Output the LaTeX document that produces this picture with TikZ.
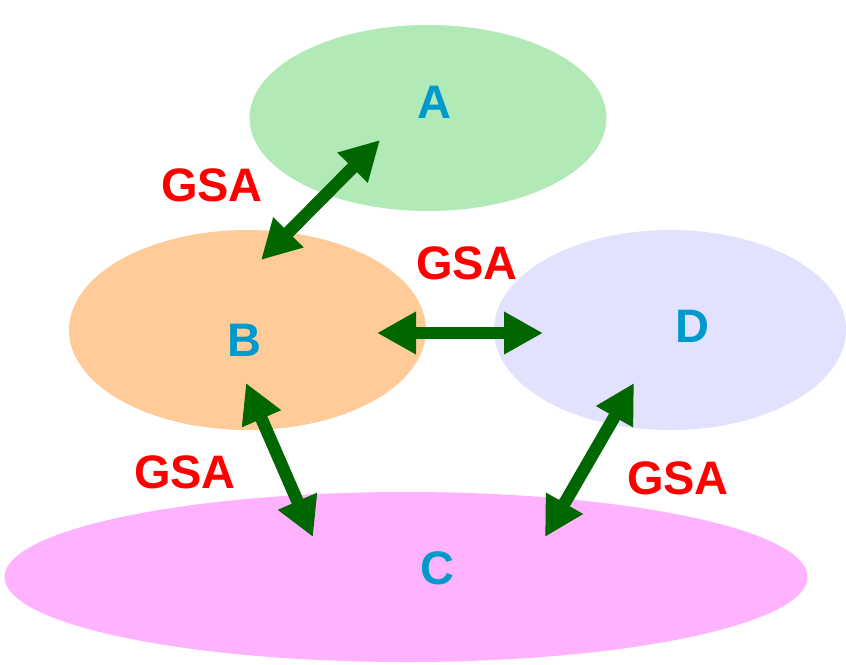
\documentclass[tikz,border=0pt]{standalone}
\usepackage{fontspec}
\setmainfont{Liberation Sans}
\usetikzlibrary{shapes.geometric,arrows.meta}
\definecolor{cA}{HTML}{B1E9B7}
\definecolor{cB}{HTML}{FFCC99}
\definecolor{cD}{HTML}{E2E2FE}
\definecolor{cC}{HTML}{FFB3FF}
\definecolor{lbl}{HTML}{0099CC}
\definecolor{arr}{HTML}{006600}
\tikzset{
  blob/.style={ellipse, draw=none, inner sep=0pt},
  letter/.style={text=lbl, font=\fontsize{47}{47}\selectfont\bfseries, inner sep=0pt},
  gsa/.style={text=red, font=\fontsize{47}{47}\selectfont\bfseries, inner sep=0pt},
  link/.style={draw=arr, line width=12.5pt, {Triangle[width=40pt,length=39pt]}-{Triangle[width=40pt,length=39pt]}, shorten <=0pt, shorten >=0pt}
}
\begin{document}
\begin{tikzpicture}[x=1pt,y=-1pt]
\useasboundingbox (0,0) rectangle (846,664);
\fill[white] (0,0) rectangle (846,664);
\node[blob, fill=cA, minimum width=357pt, minimum height=186pt] (eA) at (428,118) {};
\node[blob, fill=cB, minimum width=357pt, minimum height=200pt] (eB) at (247.5,330) {};
\node[blob, fill=cD, minimum width=352pt, minimum height=200pt] (eD) at (670,330) {};
\node[blob, fill=cC, minimum width=803pt, minimum height=170pt] (eC) at (406,577) {};
\node[letter] (tA) at (434,102) {A};
\node[letter] (tB) at (244,340) {B};
\node[letter] (tD) at (692,326) {D};
\node[letter] (tC) at (437,568) {C};
\node[gsa] (g1) at (212,185) {GSA};
\node[gsa] (g2) at (467,263) {GSA};
\node[gsa] (g3) at (185,472) {GSA};
\node[gsa] (g4) at (678,478) {GSA};
\coordinate (ab1) at (380,140);
\coordinate (ab2) at (261,260);
\coordinate (bd1) at (377,333);
\coordinate (bd2) at (543,333);
\coordinate (bc1) at (246,383);
\coordinate (bc2) at (313,537);
\coordinate (dc1) at (634,383);
\coordinate (dc2) at (545,537);
\draw[link] (ab1) -- (ab2);
\draw[link] (bd1) -- (bd2);
\draw[link] (bc1) -- (bc2);
\draw[link] (dc1) -- (dc2);
\end{tikzpicture}
\end{document}
